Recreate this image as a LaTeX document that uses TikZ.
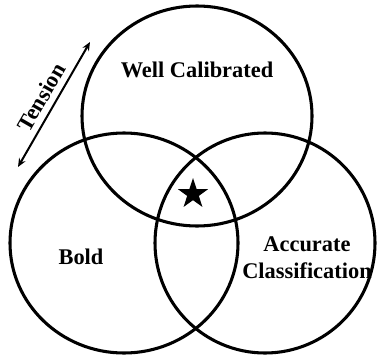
\documentclass[tikz,border=0pt]{standalone}
\usepackage{fontspec}
\setmainfont{Liberation Serif}
\usepackage{tikz}
\usetikzlibrary{positioning,arrows.meta,shapes.geometric}
\tikzset{
  ring/.style={ellipse, draw=black, line width=2.3pt, inner sep=0pt,
    minimum width=#1*0.75pt*2, minimum height=165pt},
  ring/.default=114,
  tag/.style={font=\bfseries\fontsize{16.8}{20.5}\selectfont, align=center, text=black},
  pull/.style={{Stealth[length=6.5pt,width=5.5pt]}-{Stealth[length=6.5pt,width=5.5pt]}, line width=1.5pt},
  mark star/.style={star, star points=5, star point ratio=2.6, fill=black, inner sep=0pt, minimum size=24pt},
}

\begin{document}
\begin{tikzpicture}[x=0.75pt,y=-0.75pt]
  \useasboundingbox (0,0) rectangle (377,356);
  % the three sets
  \node[ring=115] (well) at (197,116) {};
  \node[ring=114] (bold) at (124,243) {};
  \node[ring=110] (acc)  at (265,243) {};
  \node[tag] (wellt) at (197,70) {Well Calibrated};
  \node[tag] (boldt) at (81,257) {Bold};
  \node[tag] (acct)  at (307,258) {Accurate\\Classification};
  \node[mark star] (best) at (193,194) {};
  % tension arrow
  \coordinate (tlo) at (18,167);
  \coordinate (thi) at (90,42);
  \draw[pull] (tlo) -- node[sloped, above=1pt, font=\bfseries\fontsize{16.8}{20}\selectfont] (tt) {Tension} (thi);
\end{tikzpicture}
\end{document}
